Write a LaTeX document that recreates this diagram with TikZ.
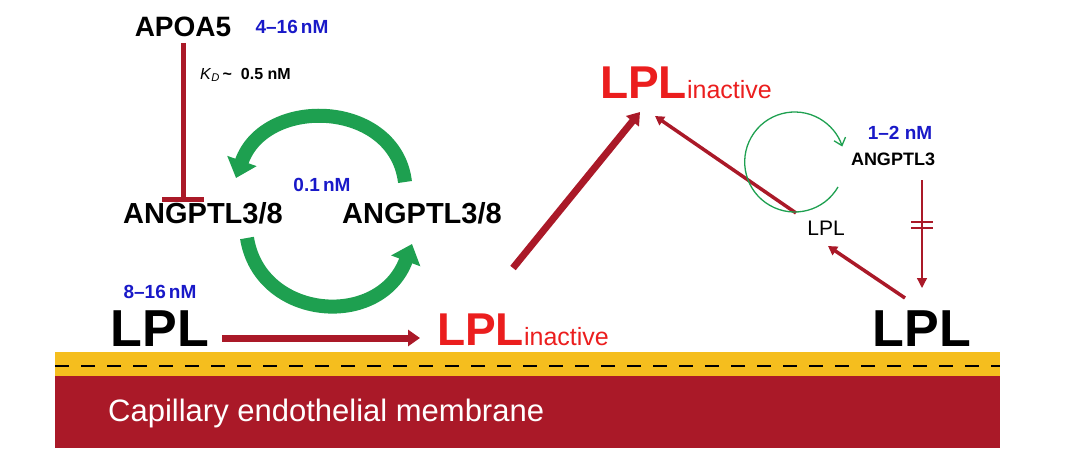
\documentclass[tikz,border=0pt]{standalone}
\usepackage{fontspec}
\setmainfont{Liberation Sans}
\usetikzlibrary{arrows.meta}
\definecolor{dred}{RGB}{170,25,40}
\definecolor{bred}{RGB}{235,30,30}
\definecolor{gr}{RGB}{30,160,80}
\definecolor{bl}{RGB}{25,25,200}
\definecolor{yel}{RGB}{245,190,30}
\tikzset{
 lab/.style={font=\bfseries, inner sep=0},
 conc/.style={font=\bfseries\fontsize{19}{22}\selectfont, text=bl, inner sep=0},
 big/.style={font=\bfseries\fontsize{52}{56}\selectfont, inner sep=0},
 fat/.style={dred, line width=7pt, -{Triangle[width=16pt,length=12pt]}},
 mid/.style={dred, line width=3.5pt, -{Triangle[width=10pt,length=9pt]}},
 garr/.style={gr, line width=14pt, -{Triangle[width=30pt,length=18pt]}}
}
\begin{document}
\begin{tikzpicture}[x=1pt,y=-1pt]
\useasboundingbox (0,0) rectangle (1080,460);
% membrane
\fill[yel] (55,352) rectangle (1000,376);
\fill[dred] (55,376) rectangle (1000,448);
\draw[line width=2pt, dash pattern=on 14pt off 12pt] (55,366) -- (1000,366);
\node[anchor=west, text=white, font=\fontsize{31}{34}\selectfont, inner sep=0] (mem) at (108,413) {Capillary endothelial membrane};
% left part
\node[lab, font=\bfseries\fontsize{28}{32}\selectfont] (apoa) at (183,27) {APOA5};
\node[conc] (c1) at (292,27) {4--16\,nM};
\node[inner sep=0, font=\fontsize{16}{19}\selectfont, anchor=west] (kd) at (200,75) {\textit{K}\textsubscript{\textit{D}}\,\textbf{\textasciitilde\ \ 0.5 nM}};
\node[lab, font=\bfseries\fontsize{29}{33}\selectfont] (a1) at (203,213) {ANGPTL3/8};
\node[lab, font=\bfseries\fontsize{29}{33}\selectfont] (a2) at (422,213) {ANGPTL3/8};
\node[conc] (c2) at (322,185) {0.1\,nM};
\coordinate (tb) at (183,202);
\draw[dred, line width=5pt, -{Bar[width=42pt,line width=5pt]}] (183,43) -- (tb);
\draw[garr] (405,182) .. controls (395,100) and (265,95) .. (236,178);
\draw[garr] (247,238) .. controls (260,320) and (380,330) .. (412,244);
\node[conc] (c3) at (160,292) {8--16\,nM};
\node[big] (lpl1) at (160,329) {LPL};
\node[inner sep=0, anchor=west] (li1) at (437,330) {\textcolor{bred}{\bfseries\fontsize{46}{50}\selectfont LPL}\textcolor{bred}{\fontsize{25}{28}\selectfont inactive}};
\coordinate (h1) at (222,338);
\coordinate (h2) at (420,338);
\draw[fat] (h1) -- (h2);
\node[inner sep=0, anchor=west] (li2) at (600,83) {\textcolor{bred}{\bfseries\fontsize{46}{50}\selectfont LPL}\textcolor{bred}{\fontsize{25}{28}\selectfont inactive}};
\coordinate (s1) at (513,268);
\coordinate (e1) at (640,112);
\draw[fat] (s1) -- (e1);
% right part
\node[big] (lpl2) at (922,329) {LPL};
\node[inner sep=0, font=\fontsize{21}{24}\selectfont] (lpl3) at (826,228) {LPL};
\node[conc] (c4) at (900,133) {1--2 nM};
\node[lab, font=\bfseries\fontsize{18}{21}\selectfont] (ang) at (893,159) {ANGPTL3};
\coordinate (r1) at (905,298);
\coordinate (r2) at (828,246);
\coordinate (r3) at (796,213);
\coordinate (r4) at (655,116);
\draw[mid] (r1) -- (r2);
\draw[mid] (r3) -- (r4);
\draw[gr, line width=1.3pt, -{Straight Barb[length=7pt,width=12pt]}] (838,187) arc[start angle=30, end angle=342, radius=50];
\coordinate (v1) at (922,180);
\coordinate (v2) at (922,288);
\draw[dred, line width=1.3pt, -{Triangle[width=10pt,length=10pt]}] (v1) -- (v2);
\draw[dred, line width=1.2pt] (911,222) -- (933,222) (911,228) -- (933,228);
\end{tikzpicture}
\end{document}
